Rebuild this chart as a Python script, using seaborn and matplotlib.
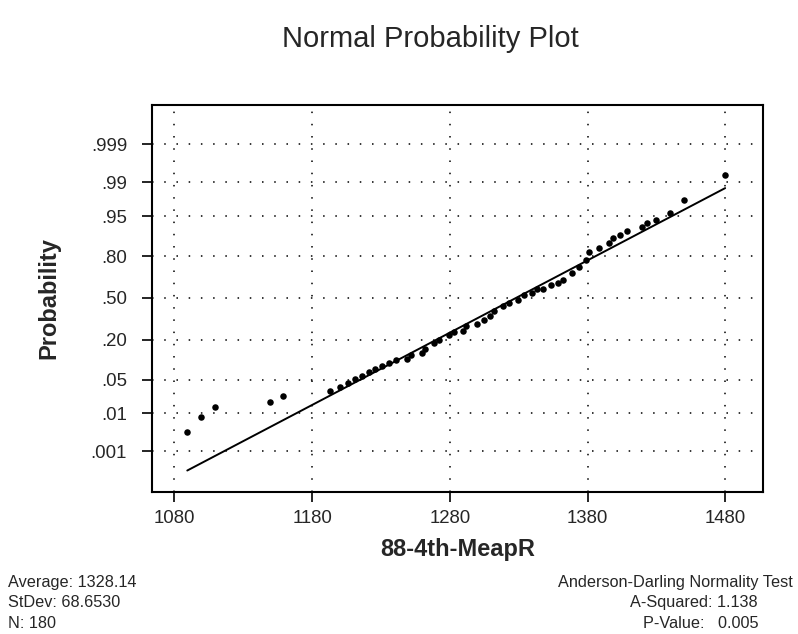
import numpy as np
import pandas as pd
import matplotlib
matplotlib.use("Agg")
import matplotlib.pyplot as plt
import seaborn as sns

# --- data ---
mean_val = 1328.14
sd_val = 68.6530
n_obs = 180
ad_sq = 1.138
p_val = 0.005

# visible points: measured value and normal score
x_vals = [1089.4, 1099.4, 1109.6, 1149.5, 1159.2,
          1193, 1200, 1206, 1211, 1216, 1221, 1226, 1231, 1236, 1241,
          1248.8, 1252, 1259.7, 1262, 1268.6, 1272, 1279.7, 1283, 1289.4,
          1292, 1299.6, 1305.1, 1309.3, 1312.2, 1318.9, 1323, 1329.8, 1334,
          1339.5, 1343, 1347.5, 1353.6, 1358.9, 1362.5, 1368.6, 1374,
          1378.8, 1380.7, 1388.2, 1395.9, 1398.8, 1403.7, 1409.0, 1419.4,
          1423.1, 1429.8, 1440.0, 1450.2, 1479.9]
z_vals = [-2.70, -2.40, -2.20, -2.10, -1.97,
          -1.88, -1.80, -1.72, -1.64, -1.58, -1.50, -1.44, -1.38, -1.31, -1.26,
          -1.24, -1.16, -1.12, -1.02, -0.91, -0.84, -0.75, -0.68, -0.67,
          -0.56, -0.53, -0.45, -0.37, -0.26, -0.17, -0.10, -0.05, 0.05,
          0.09, 0.17, 0.18, 0.26, 0.30, 0.36, 0.51, 0.62,
          0.77, 0.92, 1.00, 1.10, 1.20, 1.26, 1.34, 1.43,
          1.51, 1.57, 1.71, 1.98, 2.47]

prob_labels = [".001", ".01", ".05", ".20", ".50", ".80", ".95", ".99", ".999"]
prob_z = [-3.090, -2.326, -1.645, -0.842, 0.0, 0.842, 1.645, 2.326, 3.090]
x_ticks = [1080, 1180, 1280, 1380, 1480]

df = pd.DataFrame({"value": x_vals, "score": z_vals})

# fitted normal line between min and max observed
line_x = np.array([min(x_vals), max(x_vals)])
fit = pd.DataFrame({"value": line_x, "score": (line_x - mean_val) / sd_val})

sns.set_style("white")
plt.rcParams["font.family"] = ["Liberation Sans", "DejaVu Sans"]

fig = plt.figure(figsize=(7.98, 6.34), dpi=100)
ax = fig.add_axes([0.1905, 0.224, 0.7655, 0.6104])

sns.lineplot(data=fit, x="value", y="score", color="black", lw=1.4, ax=ax)
sns.scatterplot(data=df, x="value", y="score", color="black", s=22,
                edgecolor="black", linewidth=0, ax=ax, zorder=3)

ax.set_xlim(1063.8, 1507.3)
ax.set_ylim(-3.91, 3.885)
ax.set_xticks(x_ticks)
ax.set_yticks(prob_z)
ax.set_yticklabels(prob_labels)
ax.grid(True, color="black", linestyle=(0, (1, 7)), linewidth=1.1)
ax.tick_params(axis="both", direction="out", length=7, width=1.2,
               color="black", labelsize=13.4, left=True, bottom=True)
ax.tick_params(axis="x", pad=6)
ax.tick_params(axis="y", pad=11)
for sp in ax.spines.values():
    sp.set_color("black")
    sp.set_linewidth(1.5)

ax.set_xlabel("88-4th-MeapR", fontsize=17, fontweight="bold", labelpad=8)
ax.set_ylabel("Probability", fontsize=17, fontweight="bold", labelpad=22)

fig.text(0.539, 0.938, "Normal Probability Plot", fontsize=21,
         ha="center", va="center")

fig.text(0.01, 0.082, "Average: %.2f" % mean_val, fontsize=11.7, va="center")
fig.text(0.01, 0.049, "StDev: %.4f" % sd_val, fontsize=11.7, va="center")
fig.text(0.01, 0.016, "N: %d" % n_obs, fontsize=11.7, va="center")
fig.text(0.994, 0.082, "Anderson-Darling Normality Test", fontsize=11.7,
         ha="right", va="center")
fig.text(0.95, 0.049, "A-Squared: %.3f" % ad_sq, fontsize=11.7,
         ha="right", va="center")
fig.text(0.95, 0.016, "P-Value:   %.3f" % p_val, fontsize=11.7,
         ha="right", va="center")

fig.savefig("out.png", dpi=100)
